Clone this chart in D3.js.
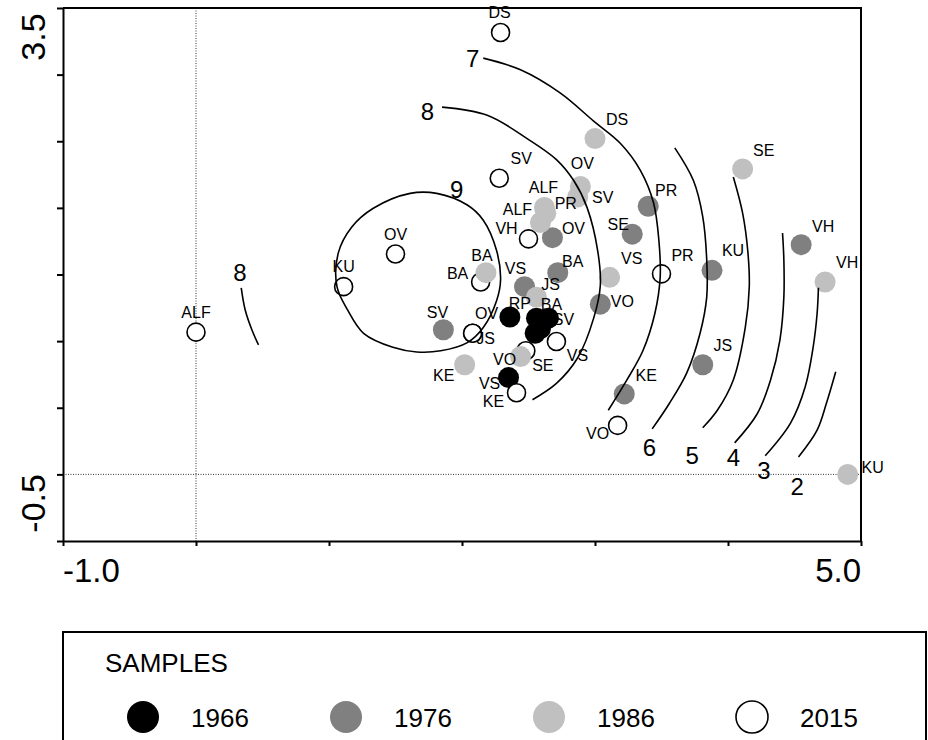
<!DOCTYPE html>
<html>
<head>
<meta charset="utf-8">
<script src="https://cdn.jsdelivr.net/npm/d3@7/dist/d3.min.js"></script>
<style>
  body { margin: 0; background: #fff; }
  text { font-family: "Liberation Sans", Arial, sans-serif; fill: #000; }
</style>
</head>
<body>
<div id="chart"></div>
<script>
// samples per year: names, ordination scores (x, y)
const years = ["1966", "1976", "1986", "2015"]

const names1966 = ["RP", "BA", "SV", "PR", "JS", "VS"]
const x1966 = [2.36, 2.56, 2.65, 2.55, 2.59, 2.35]
const y1966 = [0.85, 0.84, 0.84, 0.71, 0.75, 0.33]

const names1976 = ["SV", "VS", "BA", "OV", "VO", "SE", "PR", "KU", "JS", "KE", "VH"]
const x1976 = [1.86, 2.47, 2.72, 2.68, 3.04, 3.28, 3.40, 3.88, 3.81, 3.22, 4.55]
const y1976 = [0.74, 1.11, 1.23, 1.53, 0.96, 1.56, 1.80, 1.25, 0.44, 0.19, 1.47]

const names1986 = ["DS", "OV", "SV", "ALF", "PR", "ALF", "BA", "JS", "VS", "SE", "VH", "KU", "KE", "VO"]
const x1986 = [3.00, 2.89, 2.87, 2.62, 2.63, 2.59, 2.18, 2.56, 3.11, 4.11, 4.73, 4.90, 2.02, 2.44]
const y1986 = [2.38, 1.97, 1.88, 1.79, 1.74, 1.66, 1.23, 1.02, 1.19, 2.12, 1.15, -0.50, 0.44, 0.51]

const names2015 = ["DS", "ALF", "KU", "OV", "SV", "VH", "BA", "OV", "JS", "SE", "VS", "KE", "PR", "VO"]
const x2015 = [2.29, 0.00, 1.11, 1.50, 2.28, 2.50, 2.14, 2.08, 2.08, 2.48, 2.71, 2.41, 3.50, 3.17]
const y2015 = [3.29, 0.72, 1.11, 1.39, 2.04, 1.52, 1.15, 0.71, 0.71, 0.56, 0.64, 0.20, 1.22, -0.08]

// label placement (pixel offset of label centre from its point), null = hidden
const lab1966 = [[10, -14], [15, -14], [15, 1], null, null, [-19, 5]]
const lab1976 = [[-6, -18], [-9, -19], [15, -12], [21, -10], [22, -3], [-14, -10], [18, -16], [21, -20], [20, -20], [22, -19], [22, -19]]
const lab1986 = [[22, -20], [2, -23], [25, 0], [-1, -20], [20, -10], [-23, -14], [-4, -18], [14, -13], [22, -19], [21, -19], [22, -20], [25, -7], [-21, 10], [-16, 2]]
const lab2015 = [[-1, -20], [0, -20], [0, -21], [0, -20], [22, -20], [-22, -11], [-23, -9], [14, -20], [13, 5], [17, 14], [21, 14], [-23, 8], [21, -19], [-20, 8]]

// fitted response surface isolines
const contourLevels = [9, 8, 7, 6, 5, 4, 3, 2, 8]
const contourClosed = [true, false, false, false, false, false, false, false, false]
const contourPoints = [
  [[1.61, 1.91], [1.81, 1.91], [2.04, 1.81], [2.16, 1.68], [2.26, 1.42], [2.29, 1.17], [2.26, 0.99], [2.16, 0.76],
   [2.04, 0.63], [1.84, 0.56], [1.66, 0.55], [1.48, 0.59], [1.26, 0.71], [1.14, 0.91], [1.06, 1.11], [1.07, 1.40],
   [1.17, 1.62], [1.33, 1.78]],
  [[1.85, 2.65], [2.19, 2.58], [2.49, 2.38], [2.71, 2.20], [2.84, 2.02], [2.94, 1.79], [3.02, 1.42], [3.04, 1.12],
   [2.99, 0.84], [2.87, 0.50], [2.71, 0.28], [2.53, 0.14]],
  [[2.16, 3.07], [2.44, 2.97], [2.74, 2.77], [2.99, 2.53], [3.19, 2.34], [3.34, 2.11], [3.44, 1.83], [3.48, 1.51],
   [3.49, 1.19], [3.45, 0.88], [3.36, 0.56], [3.24, 0.31], [3.10, 0.05]],
  [[3.60, 2.30], [3.74, 2.02], [3.81, 1.71], [3.84, 1.34], [3.84, 1.02], [3.79, 0.71], [3.69, 0.37], [3.56, 0.11], [3.43, -0.11]],
  [[4.04, 2.05], [4.11, 1.74], [4.15, 1.40], [4.16, 1.11], [4.13, 0.76], [4.04, 0.31], [3.92, 0.05], [3.81, -0.10]],
  [[4.41, 1.57], [4.42, 1.34], [4.42, 1.02], [4.39, 0.65], [4.32, 0.31], [4.22, 0.02], [4.05, -0.23]],
  [[4.68, 1.10], [4.67, 0.88], [4.64, 0.59], [4.58, 0.25], [4.47, -0.06], [4.28, -0.34]],
  [[4.81, 0.38], [4.74, 0.11], [4.67, -0.12], [4.53, -0.35]],
  [[0.34, 1.10], [0.37, 0.91], [0.42, 0.74], [0.47, 0.61]]
]
const contourLabelAt = [[1.96, 1.94], [1.74, 2.61], [2.08, 3.06], [3.41, -0.27], [3.73, -0.34], [4.04, -0.36], [4.27, -0.47], [4.52, -0.61], [0.33, 1.23]]

const xTickLabels = ["-1.0", "5.0"]
const yTickLabels = ["3.5", "-0.5"]

const WIDTH = 928
const HEIGHT = 740
const PLOT = { LEFT: 63, RIGHT: 861, TOP: 8, BOTTOM: 541 }
const yStep = 4 / 7
const yMin = -0.5 - yStep

const svg = d3.select("#chart").append("svg")
  .attr("width", WIDTH)
  .attr("height", HEIGHT)
  .style("background", "#fff")

const x = d3.scaleLinear().domain([-1, 5]).range([PLOT.LEFT, PLOT.RIGHT])
const y = d3.scaleLinear().domain([yMin, 3.5]).range([PLOT.BOTTOM, PLOT.TOP])

// dotted reference lines
svg.append("line")
  .attr("x1", x(0)).attr("x2", x(0))
  .attr("y1", PLOT.TOP).attr("y2", PLOT.BOTTOM)
  .attr("stroke", "#333").attr("stroke-width", 1).attr("stroke-dasharray", "1,1.5")
svg.append("line")
  .attr("x1", PLOT.LEFT).attr("x2", PLOT.RIGHT)
  .attr("y1", y(-0.5)).attr("y2", y(-0.5))
  .attr("stroke", "#333").attr("stroke-width", 1).attr("stroke-dasharray", "1,1.5")

// axes
const xAxisCall = d3.axisBottom(x).tickValues(d3.range(-1, 5.01, 1)).tickSize(5).tickSizeOuter(0).tickFormat("")
svg.append("g")
  .attr("transform", `translate(0, ${PLOT.BOTTOM})`)
  .call(xAxisCall)
  .call(g => g.selectAll("line, path").attr("stroke", "#000").attr("stroke-width", 2))

const yAxisCall = d3.axisLeft(y).tickValues(d3.range(9).map(i => 3.5 - i * yStep)).tickSize(6).tickSizeOuter(0).tickFormat("")
svg.append("g")
  .attr("transform", `translate(${PLOT.LEFT}, 0)`)
  .call(yAxisCall)
  .call(g => g.selectAll("line, path").attr("stroke", "#000").attr("stroke-width", 2))

// top and right frame
svg.append("path")
  .attr("d", `M${PLOT.LEFT},${PLOT.TOP}H${PLOT.RIGHT}V${PLOT.BOTTOM}`)
  .attr("fill", "none").attr("stroke", "#000").attr("stroke-width", 2)

// axis labels
svg.append("text").attr("x", x(-1)).attr("y", 582)
  .attr("font-size", "33px").attr("text-anchor", "start").text(xTickLabels[0])
svg.append("text").attr("x", x(5)).attr("y", 582)
  .attr("font-size", "33px").attr("text-anchor", "end").text(xTickLabels[1])
;[3.5, -0.5].forEach((v, i) => {
  svg.append("text")
    .attr("transform", `translate(45, ${y(v) + 29}) rotate(-90)`)
    .attr("font-size", "34px").attr("text-anchor", "middle")
    .text(yTickLabels[i])
})

// samples
const fills = { "1966": "#000", "1976": "#808080", "1986": "#c0c0c0", "2015": "#fff" }
const build = (yr, names, xs, ys, labs) => names.map((n, i) => ({ year: yr, name: n, x: xs[i], y: ys[i], lab: labs[i] }))
const byYear = {
  "1966": build("1966", names1966, x1966, y1966, lab1966),
  "1976": build("1976", names1976, x1976, y1976, lab1976),
  "1986": build("1986", names1986, x1986, y1986, lab1986),
  "2015": build("2015", names2015, x2015, y2015, lab2015)
}
// drawing order as in the original plot
const drawOrder = ["1966", "2015", "1976", "1986"]
const samples = drawOrder.flatMap(yr => byYear[yr])

svg.append("g").selectAll("circle")
  .data(samples)
  .enter().append("circle")
  .attr("cx", d => x(d.x))
  .attr("cy", d => y(d.y))
  .attr("r", d => d.year === "2015" ? 9 : 10.5)
  .attr("fill", d => fills[d.year])
  .attr("stroke", d => d.year === "2015" ? "#000" : "none")
  .attr("stroke-width", 1.6)

// contours
const line = d3.line().x(d => x(d[0])).y(d => y(d[1]))
const cg = svg.append("g")
contourPoints.forEach((pts, i) => {
  cg.append("path")
    .attr("d", line.curve(contourClosed[i] ? d3.curveCatmullRomClosed : d3.curveCatmullRom)(pts))
    .attr("fill", "none")
    .attr("stroke", "#000")
    .attr("stroke-width", 1.6)
  cg.append("text")
    .attr("x", x(contourLabelAt[i][0]))
    .attr("y", y(contourLabelAt[i][1]) + 8)
    .attr("font-size", "24px")
    .attr("text-anchor", "middle")
    .text(contourLevels[i])
})

// sample labels
svg.append("g").selectAll("text")
  .data(samples.filter(d => d.lab))
  .enter().append("text")
  .attr("x", d => x(d.x) + d.lab[0])
  .attr("y", d => y(d.y) + d.lab[1] + 6)
  .attr("font-size", "16px")
  .attr("text-anchor", "middle")
  .text(d => d.name)

// legend
const legend = svg.append("g")
legend.append("rect")
  .attr("x", 63).attr("y", 632).attr("width", 863).attr("height", 130)
  .attr("fill", "none").attr("stroke", "#000").attr("stroke-width", 2)
legend.append("text").attr("x", 105).attr("y", 672).attr("font-size", "26px").text("SAMPLES")
years.forEach((yr, i) => {
  const cx = 143 + i * 203
  legend.append("circle")
    .attr("cx", cx).attr("cy", 717).attr("r", 16)
    .attr("fill", fills[yr])
    .attr("stroke", yr === "2015" ? "#000" : "none")
    .attr("stroke-width", 1.6)
  legend.append("text").attr("x", cx + 48).attr("y", 727).attr("font-size", "26px").text(yr)
})
</script>
</body>
</html>
